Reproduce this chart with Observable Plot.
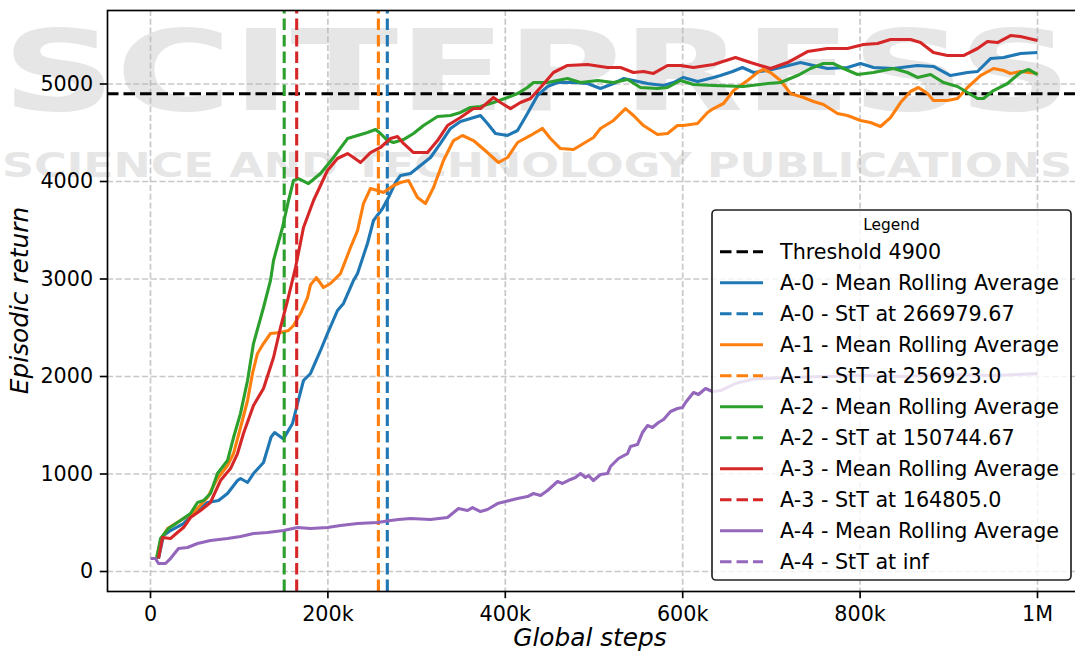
<!DOCTYPE html>
<html><head><meta charset="utf-8">
<script src="https://cdn.jsdelivr.net/npm/d3@7"></script>
<script src="https://cdn.jsdelivr.net/npm/@observablehq/plot@0.6"></script>
<style>
html,body{margin:0;padding:0;overflow:hidden;background:#fff;width:1075px;height:655px}
#chart{position:relative;width:1075px;height:655px;overflow:hidden}
#chart svg{max-width:none !important;width:1083px !important;height:655px !important}
</style>
</head><body><div id="chart"></div>
<script>
// ---- data ----
const agentNames = ["A-0", "A-1", "A-2", "A-3", "A-4"];
const agentColors = ["#1f77b4", "#ff7f0e", "#2ca02c", "#d62728", "#9467bd"];
const sttValues = [266979.67, 256923.0, 150744.67, 164805.0, Infinity];
const sttLabels = ["266979.67", "256923.0", "150744.67", "164805.0", "inf"];
const threshold = 4900;
const xTicks = [0, 200000, 400000, 600000, 800000, 1000000];
const xTickLabels = ["0", "200k", "400k", "600k", "800k", "1M"];
const yTicks = [0, 1000, 2000, 3000, 4000, 5000];

const a0 = [[9000,133],[14700,369],[22500,420],[37200,492],[48500,595],[64300,708],[76700,728],[86800,800],[98100,933],[101500,954],[109400,913],[116100,1005],[127400,1118],[136000,1380],[140000,1425],[149900,1360],[160100,1518],[165700,1723],[172500,1959],[180400,2031],[191700,2267],[199500,2441],[210800,2677],[217600,2749],[228900,2985],[233400,3056],[244600,3364],[251400,3600],[261600,3723],[268300,3836],[276200,3990],[281900,4062],[293100,4082],[304400,4164],[315700,4246],[326900,4390],[338200,4544],[349500,4615],[360800,4646],[372000,4677],[379900,4595],[388900,4492],[402500,4472],[413800,4523],[425000,4697],[436300,4882],[447600,4974],[458900,5015],[476900,5015],[492700,5005],[507300,4954],[522000,5005],[533300,5056],[544500,5036],[560300,5005],[578400,4985],[589600,5015],[600900,5067],[616700,5026],[634700,5067],[642600,5087],[656200,5128],[667400,5169],[679800,5118],[695600,5138],[710300,5169],[732800,5220],[747500,5190],[763200,5159],[785800,5169],[800500,5210],[815100,5169],[837600,5159],[864700,5190],[882700,5180],[901900,5087],[921100,5118],[932400,5128],[947000,5261],[961700,5272],[980800,5313],[1000000,5323]];
const a1 = [[6800,133],[11300,318],[19200,441],[33800,523],[48500,605],[64300,759],[75500,954],[86800,1087],[93600,1210],[101500,1477],[109400,1754],[115000,2031],[120600,2236],[127400,2338],[135300,2441],[146600,2451],[155600,2472],[161200,2523],[169100,2646],[177000,2810],[180400,2940],[187100,3015],[195000,2913],[202900,2954],[214200,3056],[225500,3323],[233400,3497],[240100,3774],[248000,3928],[255900,3908],[262700,3887],[274000,3959],[281900,3990],[290900,4010],[301000,3836],[310000,3774],[319100,3938],[330300,4215],[341600,4420],[351700,4472],[364100,4420],[379900,4297],[392300,4195],[402500,4246],[413800,4400],[428400,4472],[441900,4544],[450900,4441],[462200,4338],[476900,4328],[488200,4390],[499400,4451],[507300,4544],[522000,4626],[535500,4748],[544500,4677],[555800,4574],[571600,4482],[582900,4492],[594100,4574],[600900,4574],[616700,4595],[628000,4708],[634700,4748],[646000,4800],[657300,4933],[673100,5036],[684400,5118],[691100,5149],[699000,5118],[710300,5036],[721500,4902],[736200,4861],[747500,4820],[758700,4790],[774500,4697],[785800,4677],[800500,4626],[811700,4605],[823000,4564],[834300,4656],[845600,4810],[856800,4923],[865800,4964],[876000,4902],[882700,4831],[898500,4831],[909800,4851],[921100,4964],[935700,5087],[950400,5159],[961700,5138],[969600,5108],[980800,5128],[1000000,5108]];
const a2 = [[6800,130],[11300,338],[20300,441],[33800,523],[45100,595],[53000,708],[59800,728],[67600,800],[75500,1005],[86800,1138],[93600,1374],[101400,1620],[109400,1959],[116100,2338],[127400,2708],[135300,2985],[138700,3190],[148800,3528],[155600,3805],[161200,4010],[166900,4030],[178100,3979],[191700,4082],[206300,4246],[222100,4440],[233400,4472],[244600,4503],[253700,4533],[259300,4492],[267200,4420],[274000,4400],[285200,4430],[296500,4492],[307800,4574],[323600,4667],[338200,4677],[349500,4708],[360800,4759],[372000,4769],[386700,4810],[402500,4861],[413800,4902],[425000,4964],[431800,5015],[447600,5015],[470100,5056],[484800,5015],[504000,5036],[522000,5015],[537800,5046],[552400,4964],[571600,4954],[582900,4964],[597500,5036],[612200,4995],[634700,4985],[668500,4974],[695600,5005],[710300,5015],[729400,5087],[744100,5159],[758700,5210],[770000,5210],[781300,5159],[797100,5097],[815100,5118],[837600,5159],[853400,5118],[864700,5067],[879400,5097],[894000,5015],[909800,4974],[921100,4913],[932400,4851],[939100,4851],[950400,4933],[966200,5005],[980800,5118],[989900,5149],[1000000,5097]];
const a3 = [[9000,133],[13500,349],[22500,338],[30400,400],[37200,451],[45100,554],[56400,626],[67600,708],[78900,933],[90200,1056],[98100,1210],[104800,1415],[116100,1702],[127400,1877],[138700,2195],[146600,2503],[154500,2779],[163500,3118],[172500,3528],[183800,3805],[199500,4113],[210800,4236],[222100,4287],[228900,4246],[236800,4195],[248000,4297],[259300,4349],[270600,4441],[278500,4461],[285200,4390],[296500,4297],[312300,4297],[323600,4420],[334800,4574],[349500,4656],[364100,4748],[372000,4748],[386700,4861],[394600,4810],[405900,4748],[417100,4810],[428400,4851],[439700,4964],[454300,5118],[470100,5190],[492700,5200],[515200,5169],[529900,5169],[544500,5118],[555800,5128],[567100,5108],[582900,5190],[597500,5190],[612200,5169],[634700,5200],[659500,5272],[676400,5220],[699000,5159],[718200,5220],[740700,5333],[763200,5364],[785800,5364],[803800,5405],[819600,5415],[834300,5456],[856800,5456],[868100,5425],[882700,5323],[898500,5292],[916600,5292],[932400,5364],[943600,5436],[954900,5425],[969600,5497],[980800,5487],[1000000,5446]];
const a4 = [[0,133],[5600,133],[9000,82],[16900,82],[22500,133],[31600,236],[41700,246],[53000,287],[67600,318],[86800,338],[101500,359],[116100,390],[131900,400],[149900,420],[165700,451],[180400,441],[199500,451],[214200,472],[233400,492],[255900,502],[270600,523],[279600,533],[293100,543],[315700,533],[334800,554],[347200,646],[357400,626],[363000,656],[372000,615],[379900,636],[391200,697],[400200,718],[413800,749],[425000,769],[431800,800],[439700,779],[447600,831],[458900,923],[464500,903],[473500,944],[479100,964],[484800,1005],[490400,964],[493800,985],[499400,933],[507300,995],[515200,1005],[518600,1077],[527600,1159],[537800,1210],[541100,1282],[549000,1302],[554700,1426],[560300,1497],[565900,1477],[572700,1528],[578400,1559],[586300,1641],[594100,1672],[599800,1682],[603200,1733],[612200,1836],[617800,1815],[625700,1877],[633600,1846],[642600,1856],[660000,1930],[680000,1975],[720000,1990],[760000,2000],[800000,2010],[850000,2000],[900000,2020],[950000,2010],[1000000,2030]];
const seriesData = [a0, a1, a2, a3, a4];

// ---- layout constants ----
const xDomain = [-48478, 1051866];
const yDomain = [-205, 5753.8];
const FONT = "'DejaVu Sans', sans-serif";
const LW = 3.1;
const DASH = "11.5,5";

const marks = [
  Plot.ruleX(xTicks, {stroke: "#b0b0b0", strokeOpacity: 0.7, strokeWidth: 1.66, strokeDasharray: "6.1,2.65"}),
  Plot.ruleY(yTicks, {stroke: "#b0b0b0", strokeOpacity: 0.7, strokeWidth: 1.66, strokeDasharray: "6.1,2.65"}),
  Plot.ruleY([threshold], {stroke: "black", strokeWidth: LW, strokeDasharray: DASH})
];
seriesData.forEach((s, i) => {
  marks.push(Plot.line(s, {x: d => d[0], y: d => d[1], stroke: agentColors[i], strokeWidth: LW, strokeLinejoin: "round", strokeLinecap: "butt"}));
  if (isFinite(sttValues[i])) {
    marks.push(Plot.ruleX([{x: sttValues[i], y1: yDomain[0], y2: yDomain[1]}], {x: "x", y1: "y1", y2: "y2", stroke: agentColors[i], strokeWidth: LW, strokeDasharray: DASH}));
  }
});
marks.push(
  Plot.frame({stroke: "black", strokeWidth: 1.66}),
  Plot.axisX({ticks: xTicks, tickFormat: d => xTickLabels[xTicks.indexOf(d)], tickSize: 7.2, tickPadding: 7.2, strokeWidth: 1.66, label: null}),
  Plot.axisY({ticks: yTicks, tickFormat: d => String(d), tickSize: 7.2, tickPadding: 7.2, strokeWidth: 1.66, label: null})
);

const plot = Plot.plot({
  width: 1083, height: 655,
  marginLeft: 107, marginRight: 0, marginTop: 10, marginBottom: 64,
  style: {fontFamily: FONT, fontSize: "20.7px", background: "white", color: "black", overflow: "hidden"},
  x: {type: "linear", domain: xDomain},
  y: {type: "linear", domain: yDomain},
  marks
});
plot.style.maxWidth = "none";
plot.style.width = "1083px";
plot.style.height = "655px";
document.getElementById("chart").appendChild(plot);

const svg = d3.select(plot);
// watermark (publisher overlay) underneath everything
const wm = svg.insert("g", ":first-child").attr("fill", "#e6e6e6").attr("text-anchor", "start");
wm.append("text").attr("x", 2).attr("y", 110).attr("textLength", 1070).attr("lengthAdjust", "spacingAndGlyphs")
  .style("font", "bold 112px " + FONT).text("SCITEPRESS");
wm.append("text").attr("x", 2).attr("y", 177).attr("textLength", 1070).attr("lengthAdjust", "spacingAndGlyphs")
  .style("font", "bold 34px " + FONT).text("SCIENCE AND TECHNOLOGY PUBLICATIONS");

// axis titles
svg.append("text").attr("x", 590).attr("y", 646).attr("text-anchor", "middle")
  .style("font", "italic 24.8px " + FONT).attr("fill", "black").text("Global steps");
svg.append("text").attr("transform", "translate(28,300.5) rotate(-90)").attr("text-anchor", "middle")
  .style("font", "italic 24.8px " + FONT).attr("fill", "black").text("Episodic return");

// legend
const legendItems = [{label: "Threshold " + threshold, color: "black", dashed: true}];
agentNames.forEach((n, i) => {
  legendItems.push({label: n + " - Mean Rolling Average", color: agentColors[i], dashed: false});
  legendItems.push({label: n + " - StT at " + sttLabels[i], color: agentColors[i], dashed: true});
});
const lg = svg.append("g");
lg.append("rect").attr("x", 712).attr("y", 210).attr("width", 359).attr("height", 370).attr("rx", 4)
  .attr("fill", "white").attr("fill-opacity", 0.8).attr("stroke", "#222").attr("stroke-width", 1.66);
lg.append("text").attr("x", 891.5).attr("y", 230).attr("text-anchor", "middle")
  .style("font", "15.4px " + FONT).attr("fill", "black").text("Legend");
legendItems.forEach((it, i) => {
  const cy = 251.7 + 31 * i;
  lg.append("line").attr("x1", 720).attr("x2", 763).attr("y1", cy).attr("y2", cy)
    .attr("stroke", it.color).attr("stroke-width", LW).attr("stroke-dasharray", it.dashed ? DASH : null);
  lg.append("text").attr("x", 780).attr("y", cy + 7.5).attr("text-anchor", "start")
    .style("font", "20.7px " + FONT).attr("fill", "black").text(it.label);
});
</script>
</body></html>
